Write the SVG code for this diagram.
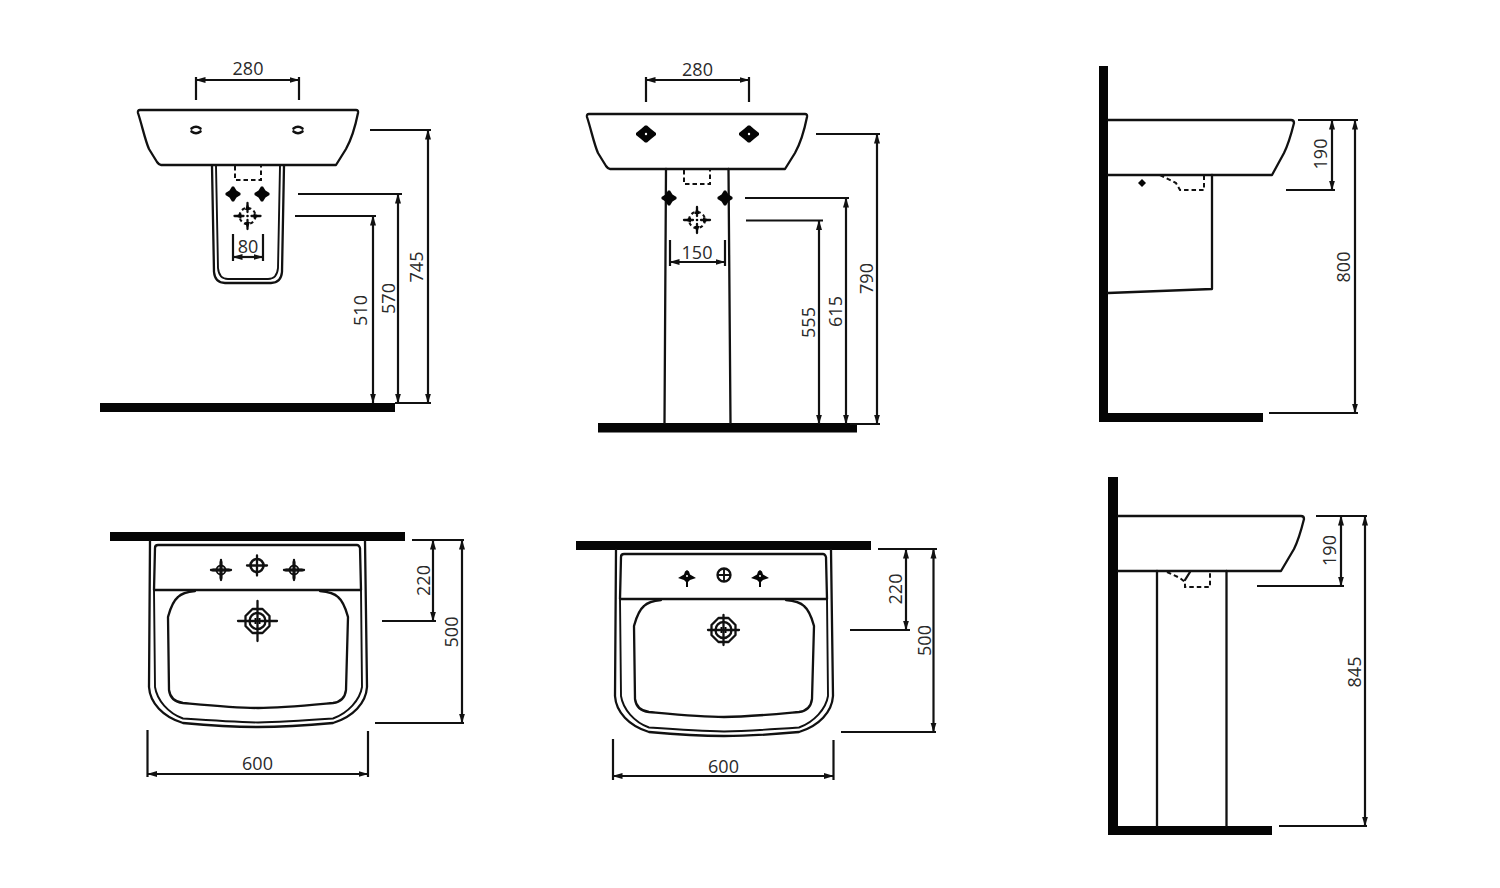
<svg xmlns="http://www.w3.org/2000/svg" width="1500" height="888" viewBox="0 0 1500 888">
<style>
.o{fill:none;stroke:#111;stroke-width:2.300;stroke-linejoin:round;stroke-linecap:round}
.t{fill:none;stroke:#111;stroke-width:1.900;stroke-linejoin:round}
.d{fill:none;stroke:#111;stroke-width:2;stroke-dasharray:4.500 3}
.k{fill:#050505;stroke:none}
.e{fill:none;stroke:#111;stroke-width:2.200}
.a{fill:none;stroke:#111;stroke-width:2.200;marker-start:url(#ah);marker-end:url(#ah)}
text{font-family:"Open Sans","Noto Sans","Liberation Sans",sans-serif;font-size:18px;fill:#2a2a2a;text-anchor:middle}
</style>
<defs>
<marker id="ah" markerUnits="userSpaceOnUse" viewBox="0 0 10 7" refX="9.500" refY="3.500" markerWidth="10" markerHeight="7" orient="auto-start-reverse"><path d="M10,3.500 L0,0.500 L0,6.500 Z" fill="#111"/></marker>
<path id="sink" class="o" d="M140,110 L356,110 Q358.500,110 358,113 C355,128 351,140 346,149 L336,165 L161,165 Q159,165 157,162 L149,149 C145,140 142,125 138,113 Q137.500,110 140,110 Z"/>
<path id="hole" class="o" style="stroke-width:2.600" d="M-4.500,-1.500 Q0,-5 4.500,-1.500 M-4.500,1.500 Q0,5 4.500,1.500"/>
<g id="tapFill"><path class="k" d="M-1,-7.500 H1 L3.500,-3.500 L7.500,-1 V1 L3.500,3.500 L1,7.500 H-1 L-3.500,3.500 L-7.500,1 V-1 L-3.500,-3.500 Z"/></g>
<g id="tapWide"><path class="k" d="M-1,-8.500 H1 L5,-5 L10,-1 V1 L5,5 L1,8.500 H-1 L-5,5 L-10,1 V-1 L-5,-5 Z"/><circle r="1.200" fill="#fff"/></g>
<g id="target"><circle class="d" r="8" style="stroke-dasharray:3.500 2.800;stroke-width:2.100"/><path class="o" d="M0,-13 V-4 M0,4 V13 M-13,0 H-4 M4,0 H13"/><path class="k" d="M0,-13 L2.500,-6 H-2.500 Z M0,13 L2.500,6 H-2.500 Z M-13,0 L-6,2.500 V-2.500 Z M13,0 L6,2.500 V-2.500 Z"/><circle class="k" r="1.300"/></g>
<g id="plan">
<path class="o" d="M150,541 L149,687 C150,703 163,717 183,723 C205,725 235,727 258,727 C281,727 311,725 333,723 C353,717 366,703 367,687 L365,541"/>
<path class="t" d="M154,590 L155,687 C157,700 168,713 183,718.500 C205,720 235,722 258,722.500 C281,722 311,720 333,718.500 C348,713 360,700 362,687 L361,590"/>
<path class="o" d="M154,590 L155,548 Q155,545 158,545 L357,545 Q359,545 360,548 L361,590 Z"/>
<path class="o" d="M195,591 C186,592 181,594 178,597 C172,602 170,610 168,617 L169,690 C170,698 175,702 183,703 C205,705 235,708 258,708 C281,708 311,705 333,703 C341,702 345,698 346,690 L348,617 C346,610 344,602 338,597 C335,594 330,592 320,591"/>
</g>
<g id="tapPlan"><path class="o" d="M-10,0 H10 M0,-10 V10"/><path class="o" style="stroke-width:3" d="M-8,0 H8 M0,-8 V8"/><circle class="t" r="4.500"/></g>
<g id="tapRing"><circle class="o" r="6.500" style="stroke-width:2.600"/><path class="o" d="M-10,0 H10 M0,-10 V10"/></g>
<g id="tapD"><path class="k" d="M-9,0 L-3,-3.500 L-2,-6.500 L0,-8 L2,-6.500 L3,-3.500 L9,0 L3,2 L1,4 L1,9 L-1,9 L-1,4 L-3,2 Z"/><circle r="1" fill="#fff" cy="-2"/></g>
<g id="waste"><polygon class="o" points="12,5 5,12 -5,12 -12,5 -12,-5 -5,-12 5,-12 12,-5"/><circle class="o" r="8"/><path class="k" d="M-3,-3 h2 v2 h-2 Z M1,-3 h2 v2 h-2 Z M-3,1 h2 v2 h-2 Z M1,1 h2 v2 h-2 Z"/></g>
</defs>
<rect width="1500" height="888" fill="#fff"/>

<g id="wall-hung-front">
<rect class="k" x="100" y="403" width="295" height="9"/>
<use href="#sink"/>
<use href="#hole" x="196" y="130"/><use href="#hole" x="298" y="130"/>
<path class="o" d="M212,166 L214,272 Q215,283 225,283 L271,283 Q281,283 282,272 L284,166"/>
<path class="t" d="M216,166 L218,268 Q219,279 228,279 L268,279 Q277,279 278,268 L280,166"/>
<path class="d" d="M235,166 V180 H261 V166"/>
<use href="#tapFill" x="233" y="194"/><use href="#tapFill" x="262" y="194"/>
<use href="#target" x="247.500" y="216"/>
</g>

<g id="pedestal-front">
<rect class="k" x="598" y="423" width="259" height="9.500"/>
<use href="#sink" x="449" y="4"/>
<use href="#tapWide" x="646" y="134"/><use href="#tapWide" x="749" y="134"/>
<path class="o" d="M666,169 L664.500,423 M728.500,169 L730.500,423"/>
<path class="d" d="M684,170 V184 H710 V170"/>
<use href="#tapFill" x="669" y="198"/><use href="#tapFill" x="725" y="198"/>
<use href="#target" x="697" y="220"/>
</g>

<g id="wall-hung-side">
<path class="k" d="M1099,66 H1108 V413 H1263 V422 H1099 Z"/>
<path class="o" d="M1108,120 H1291 Q1294,120 1294,123 C1291,135 1288,145 1284,153 L1272,175 H1108"/>
<path class="o" d="M1212,175 V289 L1108,293"/>
<path class="d" d="M1160,175 L1176,183 L1180,190 H1204 V176"/>
<path class="k" d="M1142,179 L1146,183 L1142,187 L1138,183 Z"/>
</g>

<g id="pedestal-side">
<path class="k" d="M1108,477 H1118 V826 H1272 V835 H1108 Z"/>
<path class="o" d="M1118,516 H1301 Q1304,516 1304,519 C1301,531 1298,541 1294,549 L1281,571 H1118"/>
<path class="o" d="M1157,571 V826 M1226.500,571 V826"/>
<path class="d" d="M1167,572 L1180,578 L1185,582 V587 H1210 V572"/>
<path class="o" d="M1190,572 L1185,580"/>
</g>

<g id="wall-hung-plan">
<rect class="k" x="110" y="532" width="295" height="9"/>
<use href="#plan"/>
<use href="#tapPlan" x="221" y="570"/><use href="#tapRing" x="257" y="565.500"/><use href="#tapPlan" x="294" y="570"/>
<use href="#waste" x="257.500" y="621"/>
<path class="o" d="M238,621 H277 M257.500,601 V641"/>
</g>

<g id="pedestal-plan">
<rect class="k" x="576" y="541" width="295" height="9"/>
<use href="#plan" x="466" y="9"/>
<use href="#tapD" x="687" y="578"/>
<circle class="o" cx="724" cy="575" r="6.500"/><path class="t" d="M717.500,575 H730.500 M724,568.500 V581.500"/>
<use href="#tapD" x="760" y="578"/>
<use href="#waste" x="723.500" y="630"/>
<path class="o" d="M708,630 H739 M723.500,615 V645"/>
</g>

<g id="connectors">
<path class="e" d="M196,77 V100 M299,77 V100 M370,130 H431 M395,403 H431 M298,194 H402 M295,216 H376 M233,234 V261 M263,234 V261"/>
<path class="a" d="M196,80 H299"/>
<path class="a" d="M233,257 H263"/>
<path class="a" d="M428,130 V403"/>
<path class="a" d="M398,194 V403"/>
<path class="a" d="M373,216 V403"/>

<path class="e" d="M646,77 V102 M749,77 V102 M816,134 H880 M850,424 H880 M745,198 H849 M746,220.500 H823 M670,240 V266 M725,240 V266"/>
<path class="a" d="M646,80 H749"/>
<path class="a" d="M670,262 H725"/>
<path class="a" d="M877,134 V424"/>
<path class="a" d="M846,198 V424"/>
<path class="a" d="M819,220.500 V424"/>

<path class="e" d="M1298,120 H1358 M1269,413 H1358 M1286,190 H1335"/>
<path class="a" d="M1332,120 V190"/>
<path class="a" d="M1355,120 V413"/>

<path class="e" d="M1316,516 H1367 M1279,826 H1367 M1257,586 H1344"/>
<path class="a" d="M1341,516 V586"/>
<path class="a" d="M1365,516 V826"/>

<path class="e" d="M412,540 H464 M382,621 H436 M375,723 H464 M147.500,730 V777 M368,731 V777"/>
<path class="a" d="M433,540 V621"/>
<path class="a" d="M462,540 V723"/>
<path class="a" d="M147.500,774 H368"/>

<path class="e" d="M878,549 H937 M850,630 H910 M841,732 H936 M613,739 V780 M833.500,740 V780"/>
<path class="a" d="M906,549 V630"/>
<path class="a" d="M933.500,549 V732"/>
<path class="a" d="M613,776 H833.500"/>
</g>

<g id="labels">
<text x="248" y="75">280</text>
<text x="248" y="253">80</text>
<text transform="translate(422.500 267) rotate(-90)">745</text>
<text transform="translate(394.500 298.500) rotate(-90)">570</text>
<text transform="translate(366.500 310.500) rotate(-90)">510</text>
<text x="697.500" y="76">280</text>
<text x="697" y="259">150</text>
<text transform="translate(872.500 278.500) rotate(-90)">790</text>
<text transform="translate(841.500 311.500) rotate(-90)">615</text>
<text transform="translate(814.500 322.500) rotate(-90)">555</text>
<text transform="translate(1326.500 154) rotate(-90)">190</text>
<text transform="translate(1349.500 267) rotate(-90)">800</text>
<text transform="translate(1335.500 550.500) rotate(-90)">190</text>
<text transform="translate(1360.500 672) rotate(-90)">845</text>
<text x="257.500" y="770">600</text>
<text transform="translate(429.500 580.500) rotate(-90)">220</text>
<text transform="translate(457.500 632) rotate(-90)">500</text>
<text x="723.500" y="773">600</text>
<text transform="translate(901.500 589) rotate(-90)">220</text>
<text transform="translate(930.500 640.500) rotate(-90)">500</text>
</g>
</svg>
